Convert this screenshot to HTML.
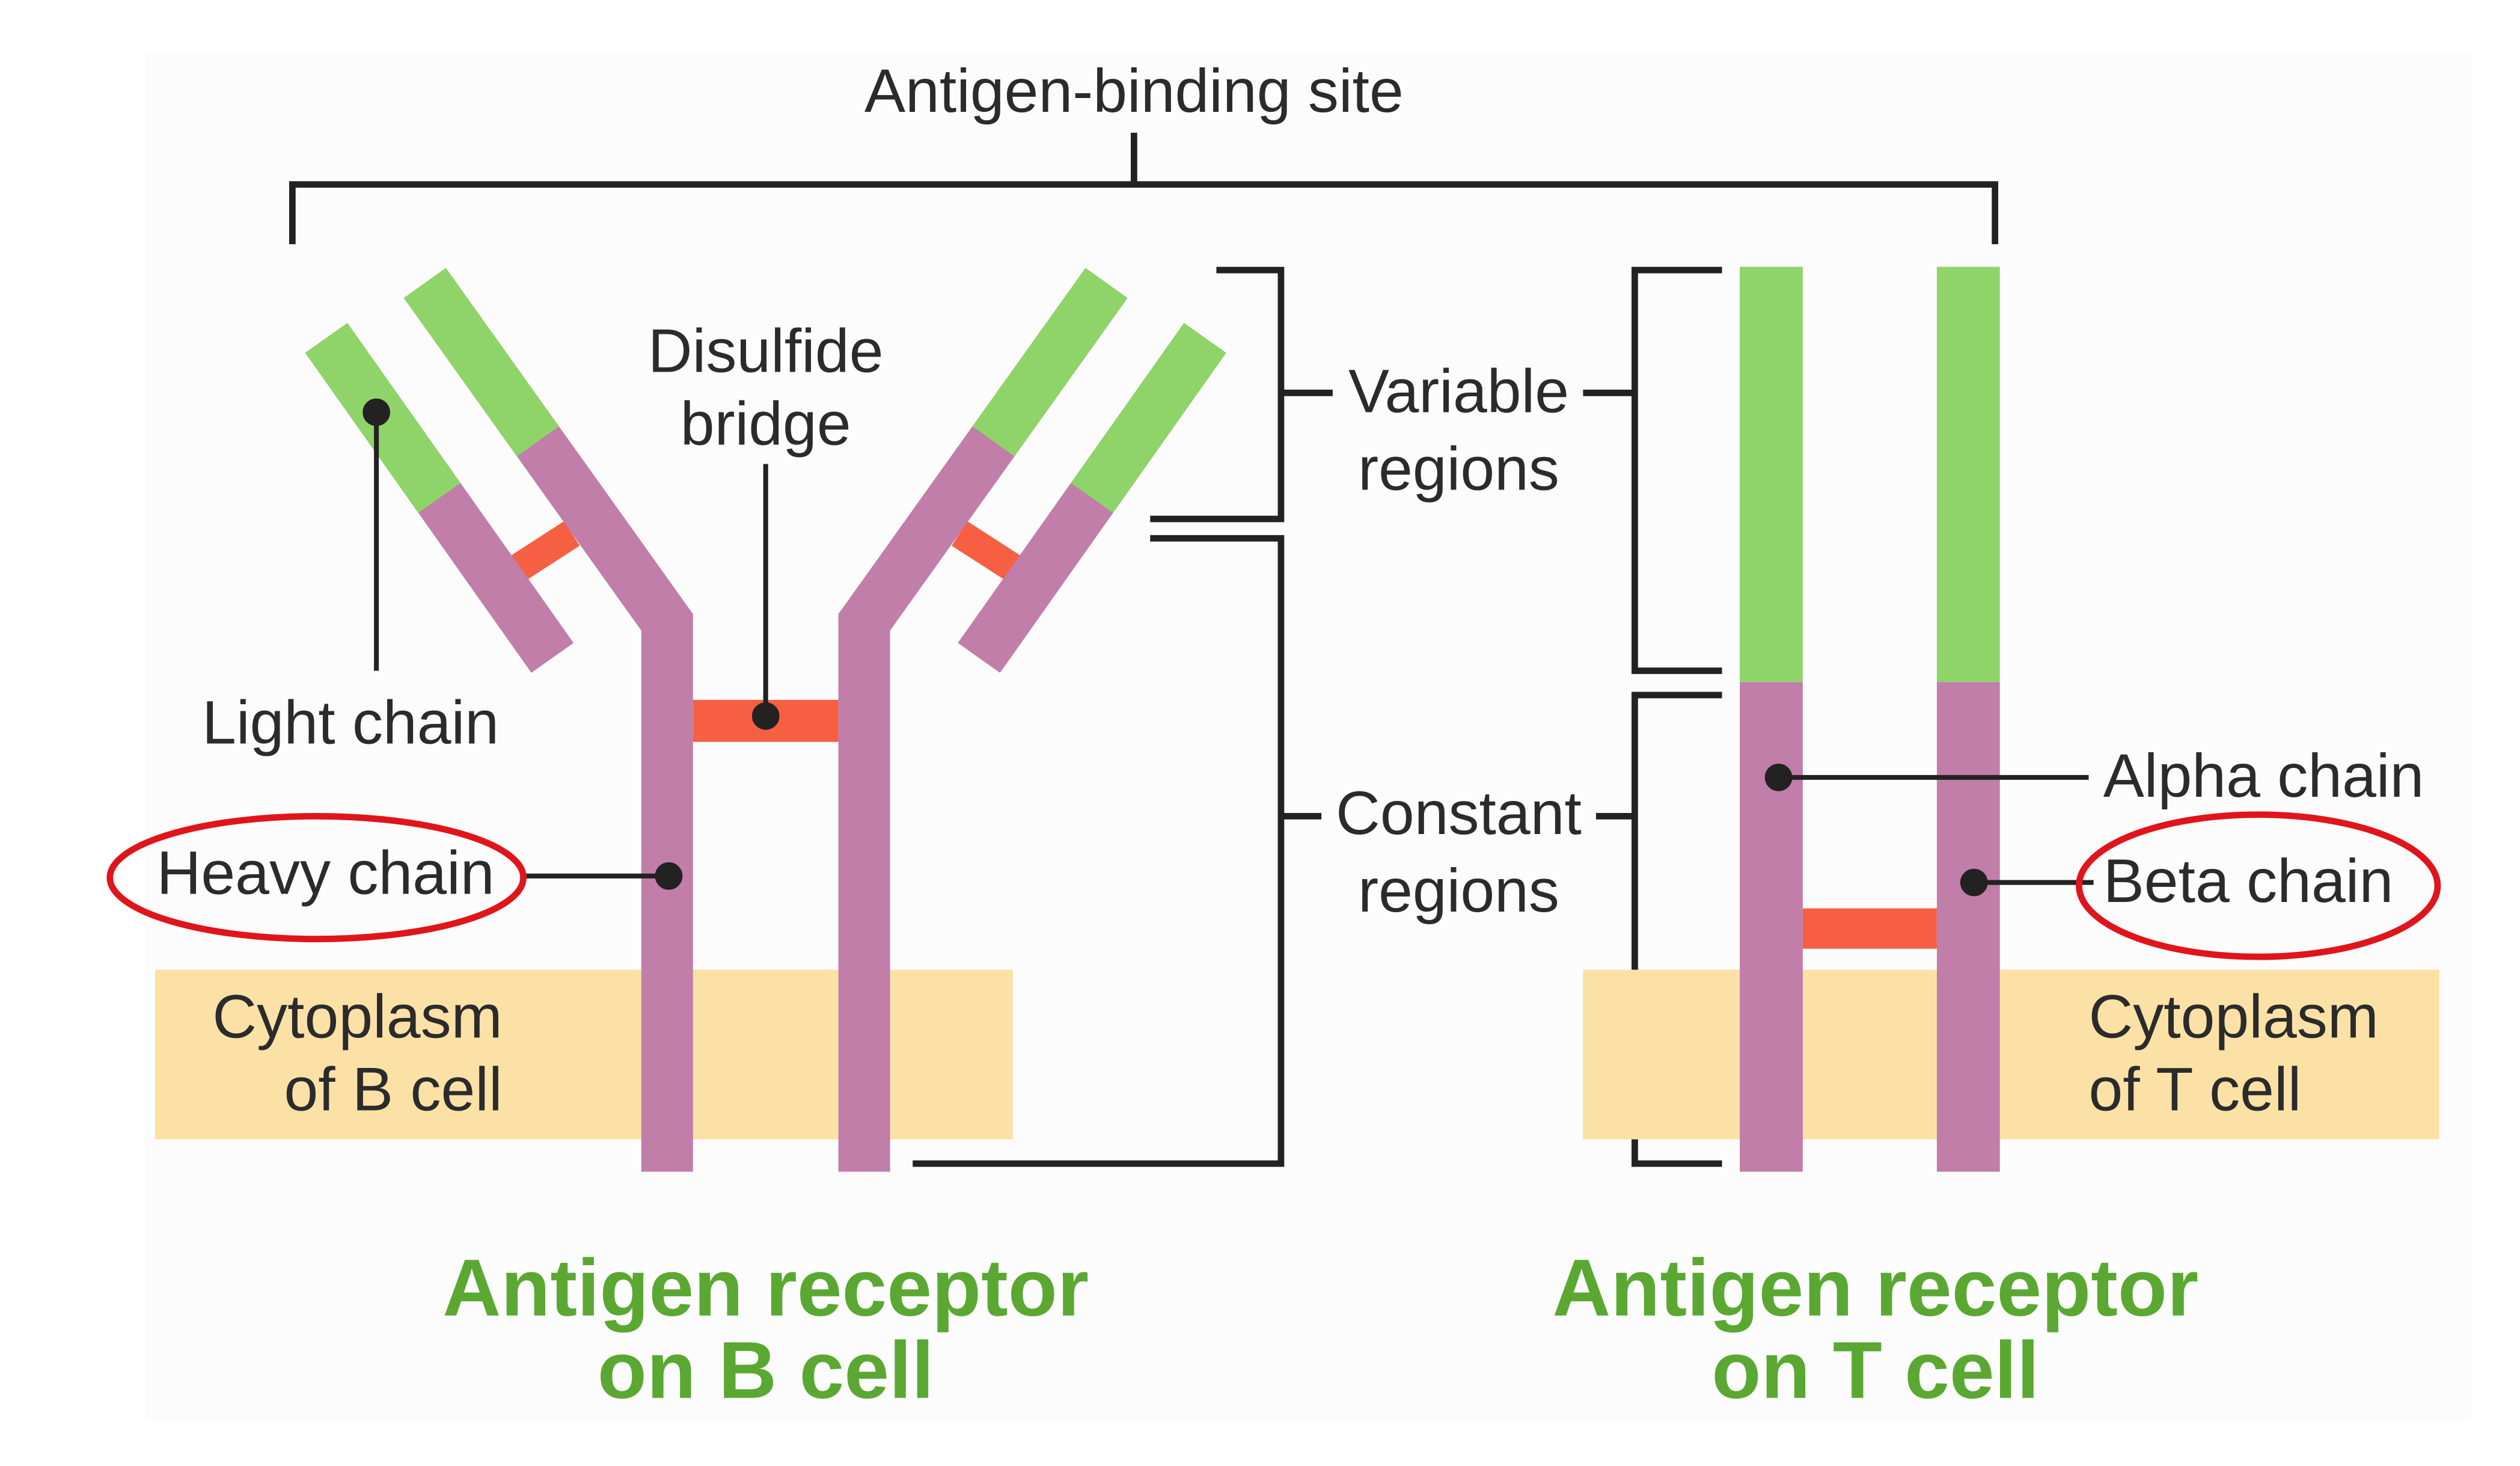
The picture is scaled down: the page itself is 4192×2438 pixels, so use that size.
<!DOCTYPE html>
<html><head><meta charset="utf-8"><style>
html,body{margin:0;padding:0;background:#fff;}
svg{display:block;}
text{font-family:"Liberation Sans",sans-serif;fill:#2b2b2b;}
</style></head><body>
<svg width="4192" height="2438" viewBox="0 0 1560 907" xmlns="http://www.w3.org/2000/svg">
<rect width="1560" height="907" fill="#fff"/>
<rect x="90" y="32" width="1440" height="848" fill="#fcfcfc"/>
<g stroke="#222" stroke-width="4" fill="none">
<polyline points="181,151 181,114 1235,114 1235,151"/>
<line x1="702" y1="82" x2="702" y2="114"/>
<polyline points="753,167 793,167 793,321 712,321"/>
<line x1="793" y1="243" x2="825" y2="243"/>
<line x1="980" y1="243" x2="1012" y2="243"/>
<polyline points="1066,167 1012,167 1012,415 1066,415"/>
<polyline points="712,333 793,333 793,720 565,720"/>
<line x1="793" y1="505" x2="818" y2="505"/>
<line x1="988" y1="505" x2="1012" y2="505"/>
<polyline points="1066,430 1012,430 1012,720 1066,720"/>
</g>
<rect x="96" y="600" width="531" height="105" fill="#fbe1a6"/>
<rect x="980" y="600" width="530" height="105" fill="#fbe1a6"/>
<g stroke="#f75f43" stroke-width="18">
<line x1="320" y1="352" x2="354" y2="330"/>
<line x1="628" y1="352" x2="594" y2="330"/>
</g>
<rect x="429" y="433" width="90" height="26" fill="#f75f43"/>
<g fill="none" stroke-width="32" stroke-linejoin="miter" stroke-linecap="butt">
<polyline points="263,175 413,385 413,725" stroke="#c07ea9"/>
<line x1="263" y1="175" x2="333" y2="273" stroke="#8fd468"/>
<polyline points="685,175 535,385 535,725" stroke="#c07ea9"/>
<line x1="685" y1="175" x2="615" y2="273" stroke="#8fd468"/>
<line x1="202" y1="209" x2="342" y2="407" stroke="#c07ea9"/>
<line x1="202" y1="209" x2="272" y2="308" stroke="#8fd468"/>
<line x1="746" y1="209" x2="606" y2="407" stroke="#c07ea9"/>
<line x1="746" y1="209" x2="676" y2="308" stroke="#8fd468"/>
</g>
<rect x="1116" y="562" width="83" height="25" fill="#f75f43"/>
<rect x="1077" y="165" width="39" height="257" fill="#8fd468"/>
<rect x="1077" y="422" width="39" height="303" fill="#c07ea9"/>
<rect x="1199" y="165" width="39" height="257" fill="#8fd468"/>
<rect x="1199" y="422" width="39" height="303" fill="#c07ea9"/>
<g stroke="#222" stroke-width="3" fill="#222">
<line x1="474" y1="287" x2="474" y2="443"/><circle cx="474" cy="443" r="7"/>
<line x1="233" y1="255" x2="233" y2="415"/><circle cx="233" cy="255" r="7"/>
<line x1="322" y1="542" x2="414" y2="542"/><circle cx="414" cy="542" r="7"/>
<line x1="1101" y1="481" x2="1293" y2="481"/><circle cx="1101" cy="481" r="7"/>
<line x1="1222" y1="546" x2="1296" y2="546"/><circle cx="1222" cy="546" r="7"/>
</g>
<g fill="none" stroke="#e0151b" stroke-width="4">
<ellipse cx="196" cy="543" rx="128" ry="38"/>
<ellipse cx="1398" cy="548" rx="111" ry="44"/>
</g>
<g font-size="38">
<text x="702" y="69" text-anchor="middle">Antigen-binding site</text>
<text x="474" y="230" text-anchor="middle">Disulfide</text>
<text x="474" y="275" text-anchor="middle">bridge</text>
<text x="217" y="460" text-anchor="middle">Light chain</text>
<text x="97" y="553">Heavy chain</text>
<text x="311" y="642" text-anchor="end">Cytoplasm</text>
<text x="311" y="687" text-anchor="end">of B cell</text>
<text x="903" y="255" text-anchor="middle">Variable</text>
<text x="903" y="303" text-anchor="middle">regions</text>
<text x="903" y="516" text-anchor="middle">Constant</text>
<text x="903" y="564" text-anchor="middle">regions</text>
<text x="1302" y="493">Alpha chain</text>
<text x="1302" y="558">Beta chain</text>
<text x="1293" y="642">Cytoplasm</text>
<text x="1293" y="687">of T cell</text>
</g>
<g font-size="50" font-weight="bold" text-anchor="middle">
<text x="474" y="814" style="fill:#5aa832">Antigen receptor</text>
<text x="474" y="865" style="fill:#5aa832">on B cell</text>
<text x="1161" y="814" style="fill:#5aa832">Antigen receptor</text>
<text x="1161" y="865" style="fill:#5aa832">on T cell</text>
</g>
</svg>
</body></html>
